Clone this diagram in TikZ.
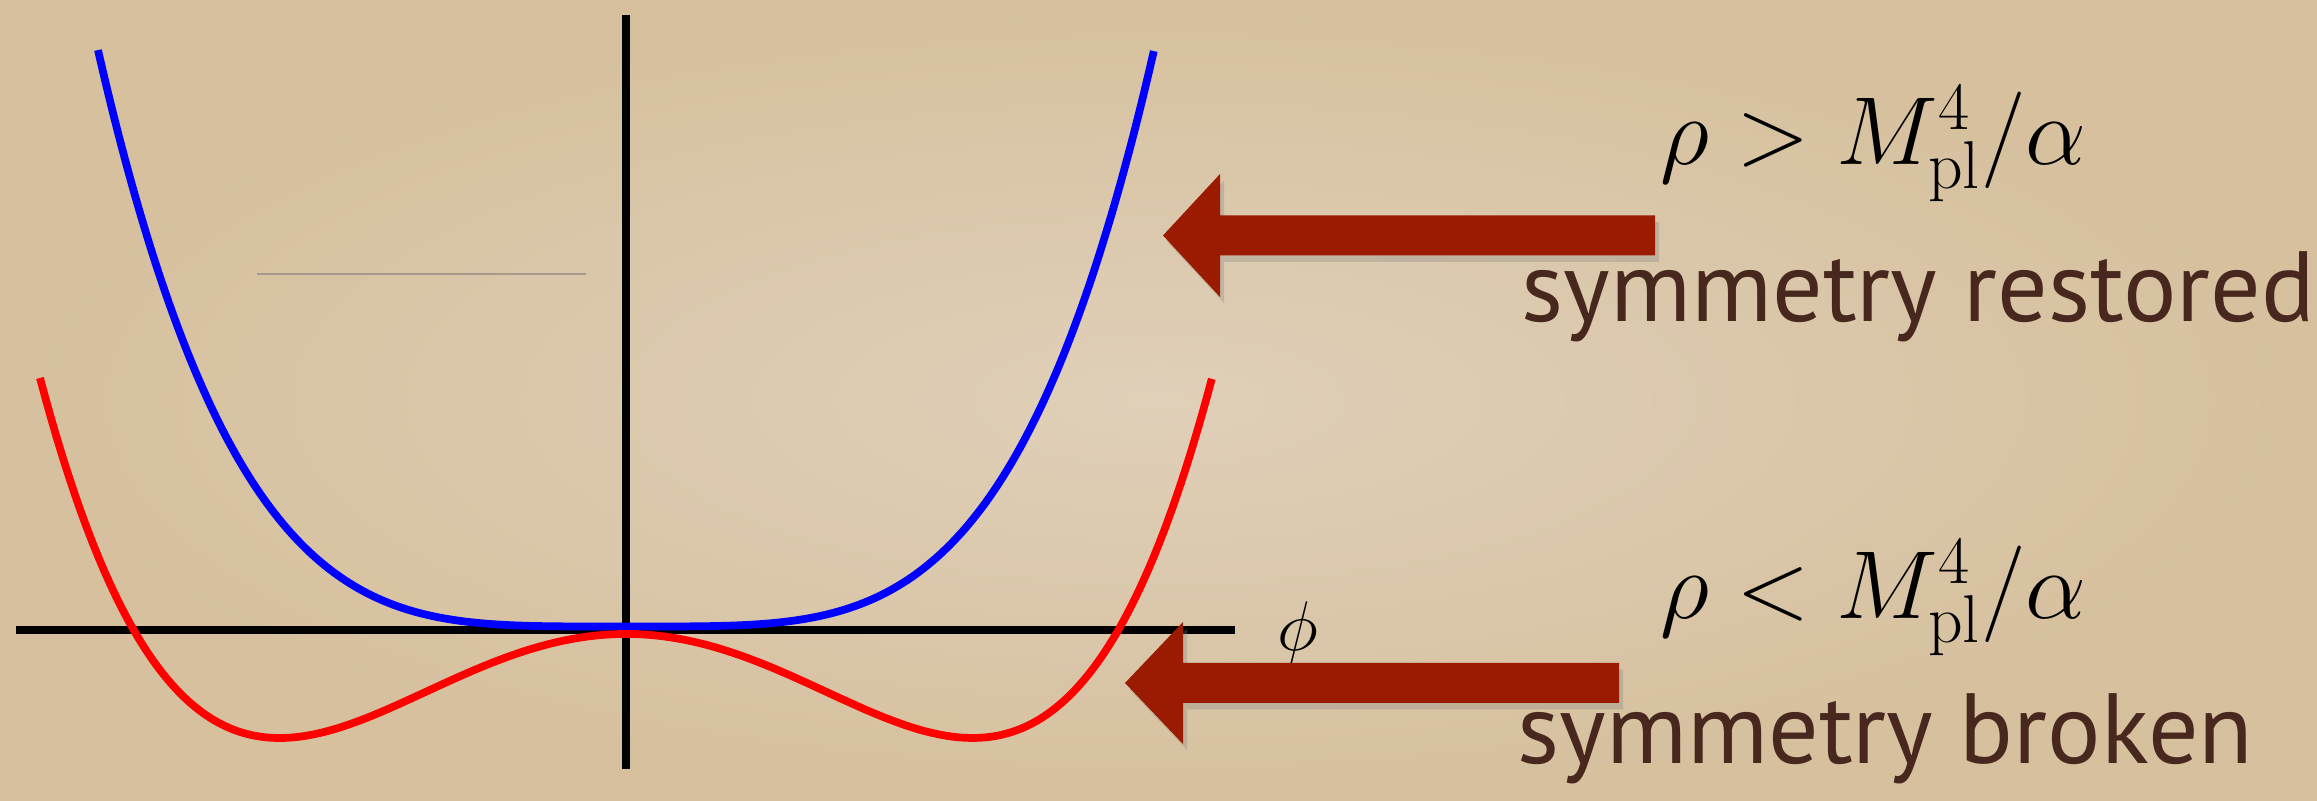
\RequirePackage{fix-cm}
\documentclass[tikz,border=0pt]{standalone}
\usepackage{fontspec}
\newfontfamily\handfont{PT Sans}
\usetikzlibrary{shadows}
\definecolor{paper}{RGB}{224,208,185}
\definecolor{paperedge}{RGB}{214,192,158}
\definecolor{arrowred}{RGB}{155,27,0}
\definecolor{ink}{RGB}{72,40,30}
\definecolor{faint}{RGB}{165,155,140}

\begin{document}
\begin{tikzpicture}[
    x=1cm, y=-1cm,
    every node/.style={inner sep=0pt},
    axis/.style={line width=2.1pt, black},
    curve/.style={line width=2.2pt, smooth, samples=200},
    bigarrow/.style={fill=arrowred, drop shadow={shadow xshift=1.2pt, shadow yshift=-1.8pt, opacity=0.3}},
    formula/.style={font=\fontsize{27.5}{33}\selectfont, anchor=base west},
    caption/.style={font=\handfont\fontsize{28.4}{34}\selectfont, text=ink, anchor=base west}
]
% parchment
\shade[inner color=paper, outer color=paperedge] (0,0) rectangle (23.17,8.01);
\useasboundingbox (0,0) rectangle (23.17,8.01);

\coordinate (origin) at (6.26,6.30);
\draw[faint, line width=0.6pt] (2.57,2.74) -- (5.86,2.74);

% axes
\draw[axis] (0.16,6.30) -- (12.35,6.30);
\draw[axis] (6.26,0.15) -- (6.26,7.69);

% potentials
\draw[curve, blue] plot[domain=-5.28:5.28] ({6.26+\x}, {6.265-0.00741*\x*\x*\x*\x});
\draw[curve, red] plot[domain=-5.86:5.86] ({6.26+\x}, {6.34-0.00721*\x*\x*(\x*\x-24.01)});

\node[font=\fontsize{20}{24}\selectfont] (phi) at (12.98,6.33) {$\phi$};

% arrows
\fill[bigarrow] (11.63,2.355) -- (12.20,1.74) -- (12.20,2.155) -- (16.55,2.155)
    -- (16.55,2.555) -- (12.20,2.555) -- (12.20,2.97) -- cycle;
\fill[bigarrow] (11.25,6.83) -- (11.83,6.22) -- (11.83,6.63) -- (16.19,6.63)
    -- (16.19,7.03) -- (11.83,7.03) -- (11.83,7.44) -- cycle;

% labels
\node[formula] (higheq) at (16.60,1.65) {$\rho > M^4_{\mathrm{pl}}/\alpha$};
\node[caption] (hightext) at (15.21,3.22) {symmetry restored};
\node[formula] (loweq) at (16.60,6.19) {$\rho < M^4_{\mathrm{pl}}/\alpha$};
\node[caption] (lowtext) at (15.17,7.64) {symmetry broken};
\end{tikzpicture}
\end{document}
